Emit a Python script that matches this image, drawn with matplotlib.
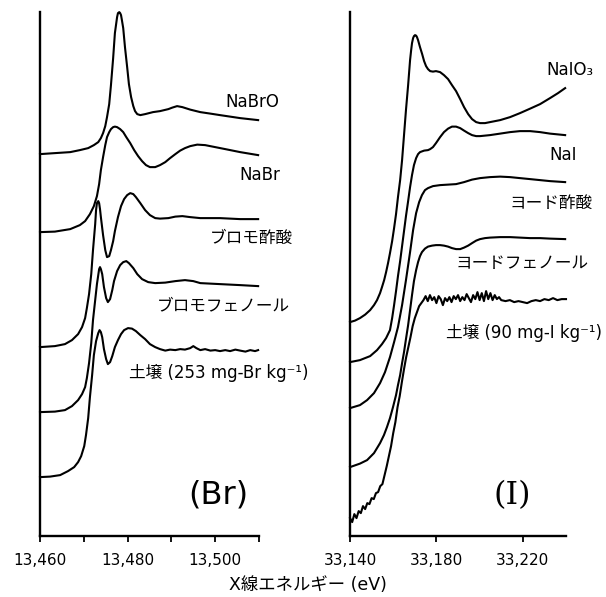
import matplotlib
matplotlib.use("Agg")
import matplotlib.pyplot as plt

plt.rcParams['font.family'] = ['DejaVu Sans', 'Noto Sans CJK JP']

# Br K-edge XANES (energy in eV, stacked normalized absorbance)
br_names = ["NaBrO", "NaBr", "ブロモ酢酸", "ブロモフェノール", "土壌 (253 mg-Br kg⁻¹)"]

nabro_e = [13460.0, 13463.4, 13466.9, 13469.1, 13471.0, 13472.3, 13473.3, 13473.9, 13474.4, 13474.9,
           13475.3, 13475.8, 13476.2, 13476.7, 13477.1, 13477.6, 13477.8, 13478.1, 13478.3, 13478.5,
           13478.7, 13479.0, 13479.4, 13479.9, 13480.3, 13480.8, 13481.3, 13481.7, 13482.2, 13482.9,
           13484.0, 13485.8, 13487.4, 13489.3, 13490.2, 13491.3, 13492.5, 13494.3, 13496.6, 13498.9,
           13501.1, 13505.7, 13509.8]
nabro_y = [3.82, 3.83, 3.84, 3.86, 3.88, 3.91, 3.94, 3.98, 4.03, 4.10,
           4.19, 4.32, 4.51, 4.78, 5.03, 5.19, 5.23, 5.24, 5.23, 5.21,
           5.16, 5.08, 4.89, 4.69, 4.52, 4.39, 4.30, 4.25, 4.22, 4.21,
           4.22, 4.24, 4.25, 4.27, 4.285, 4.30, 4.29, 4.265, 4.24, 4.225,
           4.21, 4.18, 4.16]

nabr_e = [13460.0, 13463.4, 13466.9, 13469.1, 13470.3, 13471.4, 13472.3, 13473.0, 13473.5, 13473.9,
          13474.4, 13474.9, 13475.3, 13475.8, 13476.2, 13476.7, 13477.1, 13477.6, 13478.3, 13479.0,
          13479.7, 13480.6, 13481.5, 13482.4, 13483.3, 13484.2, 13485.1, 13486.3, 13487.4, 13488.6,
          13489.7, 13490.9, 13492.0, 13493.1, 13494.3, 13495.9, 13497.7, 13500.0, 13502.3, 13505.7,
          13509.8]
nabr_y = [3.04, 3.045, 3.07, 3.11, 3.15, 3.22, 3.30, 3.40, 3.52, 3.66,
          3.79, 3.91, 3.99, 4.04, 4.07, 4.09, 4.095, 4.09, 4.07, 4.04,
          3.99, 3.93, 3.86, 3.80, 3.75, 3.71, 3.69, 3.69, 3.71, 3.74,
          3.78, 3.82, 3.855, 3.88, 3.90, 3.915, 3.91, 3.89, 3.87, 3.84,
          3.81]

brac_e = [13460.0, 13463.4, 13465.7, 13467.3, 13468.7, 13469.6, 13470.3, 13470.7, 13471.2, 13471.7,
          13472.1, 13472.6, 13472.8, 13473.0, 13473.3, 13473.5, 13473.7, 13473.9, 13474.4, 13474.9,
          13475.3, 13475.8, 13476.2, 13476.7, 13477.1, 13477.8, 13478.5, 13479.2, 13479.9, 13480.6,
          13481.3, 13481.9, 13482.9, 13484.0, 13485.1, 13486.3, 13487.4, 13489.3, 13490.9, 13492.5,
          13494.3, 13496.6, 13501.1, 13505.7, 13509.8]
brac_y = [1.89, 1.90, 1.92, 1.96, 2.02, 2.09, 2.18, 2.28, 2.42, 2.62,
          2.86, 3.12, 3.26, 3.33, 3.35, 3.33, 3.27, 3.19, 3.01, 2.86,
          2.79, 2.80, 2.86, 2.95, 3.05, 3.19, 3.30, 3.37, 3.41, 3.43,
          3.42, 3.39, 3.33, 3.26, 3.21, 3.18, 3.175, 3.18, 3.195, 3.20,
          3.19, 3.18, 3.18, 3.17, 3.17]

brph_e = [13460.0, 13463.4, 13465.7, 13467.3, 13468.7, 13469.6, 13470.3, 13470.7, 13471.2, 13471.7,
          13472.1, 13472.6, 13473.0, 13473.3, 13473.5, 13473.7, 13473.9, 13474.2, 13474.6, 13475.1,
          13475.5, 13476.0, 13476.5, 13476.9, 13477.6, 13478.3, 13479.0, 13479.7, 13480.3, 13481.3,
          13482.2, 13483.3, 13484.7, 13486.3, 13488.6, 13490.9, 13493.1, 13495.0, 13496.6, 13501.1,
          13505.7, 13509.8]
brph_y = [1.24, 1.245, 1.26, 1.30, 1.36, 1.42, 1.49, 1.58, 1.73, 1.93,
          2.16, 2.36, 2.52, 2.61, 2.67, 2.69, 2.67, 2.62, 2.49, 2.38,
          2.34, 2.37, 2.46, 2.55, 2.65, 2.71, 2.74, 2.75, 2.73, 2.68,
          2.62, 2.57, 2.54, 2.53, 2.535, 2.55, 2.56, 2.55, 2.53, 2.52,
          2.51, 2.50]

brsoil_e = [13460.0, 13462.3, 13464.6, 13466.4, 13467.8, 13468.7, 13469.4, 13470.1, 13470.5, 13471.0,
            13471.4, 13471.9, 13472.3, 13472.8, 13473.3, 13473.6, 13473.9, 13474.2, 13474.6, 13475.1,
            13475.5, 13476.0, 13476.5, 13477.1, 13477.8, 13478.5, 13479.2, 13480.1, 13481.0, 13481.9,
            13482.9, 13484.0, 13485.1, 13486.3, 13487.4, 13488.6, 13489.7, 13490.9, 13492.0, 13493.1,
            13494.3, 13495.0, 13495.7, 13496.6, 13497.7, 13498.9, 13500.0, 13501.1, 13502.3, 13503.4,
            13504.6, 13505.7, 13506.9, 13508.0, 13509.1, 13509.8]
brsoil_y = [0.59, 0.595, 0.61, 0.65, 0.69, 0.74, 0.80, 0.90, 1.01, 1.18,
            1.39, 1.61, 1.81, 1.95, 2.03, 2.06, 2.04, 1.99, 1.87, 1.77,
            1.72, 1.74, 1.80, 1.89, 1.96, 2.02, 2.06, 2.08, 2.075, 2.05,
            2.01, 1.97, 1.92, 1.89, 1.87, 1.855, 1.865, 1.86, 1.87, 1.865,
            1.88, 1.90, 1.88, 1.86, 1.87, 1.855, 1.86, 1.85, 1.86, 1.85,
            1.865, 1.855, 1.845, 1.86, 1.85, 1.86]

# I K-edge XANES
i_names = ["NaIO₃", "NaI", "ヨード酢酸", "ヨードフェノール", "土壌 (90 mg-I kg⁻¹)"]

naio3_e = [33140.0, 33142.3, 33144.6, 33147.0, 33149.3, 33151.1, 33152.5, 33153.9, 33154.8, 33155.8,
           33156.7, 33157.6, 33158.5, 33159.5, 33160.4, 33161.3, 33162.2, 33163.2, 33164.1, 33165.0,
           33165.9, 33166.9, 33167.8, 33168.3, 33168.7, 33169.2, 33169.6, 33170.1, 33170.6, 33171.0,
           33171.5, 33172.4, 33173.4, 33174.3, 33175.2, 33176.1, 33177.1, 33178.4, 33179.8, 33181.7,
           33183.5, 33185.4, 33187.2, 33189.1, 33191.0, 33192.8, 33194.7, 33196.5, 33198.4, 33200.2,
           33202.5, 33204.8, 33209.5, 33214.1, 33218.7, 33223.4, 33228.0, 33232.6, 33236.3, 33239.6]
naio3_y = [2.14, 2.155, 2.18, 2.215, 2.26, 2.31, 2.36, 2.43, 2.49, 2.56,
           2.64, 2.73, 2.83, 2.95, 3.08, 3.22, 3.39, 3.56, 3.76, 4.01,
           4.26, 4.51, 4.76, 4.86, 4.93, 4.98, 5.00, 5.01, 5.005, 4.99,
           4.96, 4.89, 4.82, 4.75, 4.70, 4.67, 4.65, 4.645, 4.65, 4.64,
           4.61, 4.57, 4.51, 4.45, 4.37, 4.29, 4.22, 4.17, 4.14, 4.13,
           4.13, 4.14, 4.16, 4.19, 4.23, 4.275, 4.32, 4.38, 4.43, 4.48]

nai_e = [33140.0, 33144.6, 33149.3, 33152.5, 33154.8, 33156.7, 33157.6, 33158.5, 33159.5, 33160.4,
         33161.3, 33162.2, 33163.2, 33164.1, 33165.0, 33165.9, 33166.9, 33167.8, 33168.7, 33169.6,
         33170.6, 33171.5, 33172.4, 33174.3, 33176.1, 33177.1, 33178.4, 33179.8, 33181.7, 33183.5,
         33185.4, 33187.2, 33189.1, 33191.0, 33192.8, 33194.7, 33196.5, 33198.4, 33200.2, 33204.8,
         33209.5, 33214.1, 33218.7, 33223.4, 33228.0, 33232.6, 33239.6]
nai_y = [1.74, 1.76, 1.80, 1.86, 1.92, 1.98, 2.02, 2.06, 2.18, 2.31,
         2.45, 2.60, 2.75, 2.90, 3.05, 3.20, 3.35, 3.49, 3.61, 3.71,
         3.78, 3.82, 3.84, 3.855, 3.86, 3.87, 3.89, 3.93, 3.99, 4.04,
         4.075, 4.095, 4.095, 4.08, 4.055, 4.03, 4.01, 4.00, 4.00, 4.01,
         4.025, 4.04, 4.05, 4.05, 4.04, 4.025, 4.01]

iac_e = [33140.0, 33144.6, 33147.9, 33151.1, 33153.9, 33156.2, 33158.5, 33160.4, 33162.2, 33164.1,
         33165.9, 33167.8, 33169.2, 33170.6, 33172.0, 33173.3, 33174.7, 33176.1, 33178.4, 33181.7,
         33185.4, 33189.1, 33192.8, 33196.5, 33200.2, 33204.8, 33209.5, 33214.1, 33218.7, 33223.4,
         33228.0, 33232.6, 33239.6]
iac_y = [1.28, 1.31, 1.36, 1.43, 1.53, 1.64, 1.79, 1.94, 2.09, 2.31,
         2.56, 2.84, 3.06, 3.23, 3.34, 3.41, 3.46, 3.48, 3.50, 3.51,
         3.515, 3.52, 3.54, 3.565, 3.58, 3.59, 3.595, 3.59, 3.58, 3.57,
         3.56, 3.55, 3.54]

iph_e = [33140.0, 33144.6, 33147.9, 33151.1, 33153.9, 33155.7, 33157.1, 33158.5, 33159.9, 33161.3,
         33162.2, 33163.2, 33164.1, 33165.0, 33165.9, 33166.9, 33167.8, 33168.7, 33169.6, 33170.6,
         33171.5, 33172.4, 33173.3, 33174.7, 33176.1, 33178.0, 33179.8, 33181.7, 33183.5, 33185.4,
         33187.2, 33189.1, 33191.0, 33192.8, 33194.7, 33196.5, 33198.4, 33200.2, 33202.5, 33204.8,
         33209.5, 33214.1, 33218.7, 33223.4, 33228.0, 33232.6, 33239.6]
iph_y = [0.69, 0.725, 0.76, 0.83, 0.93, 1.01, 1.09, 1.18, 1.29, 1.41,
         1.51, 1.61, 1.73, 1.84, 1.97, 2.11, 2.26, 2.41, 2.55, 2.66,
         2.74, 2.80, 2.84, 2.875, 2.895, 2.905, 2.91, 2.91, 2.905, 2.895,
         2.88, 2.87, 2.87, 2.885, 2.905, 2.93, 2.955, 2.97, 2.98, 2.985,
         2.99, 2.99, 2.985, 2.98, 2.98, 2.975, 2.97]

isoil_e = [33140, 33141, 33142, 33143, 33144, 33145, 33146, 33147, 33148, 33149,
           33150, 33151, 33152, 33153, 33154, 33155, 33156, 33157, 33158, 33159,
           33160, 33161, 33162, 33163, 33164, 33165, 33166, 33167, 33168, 33169,
           33170, 33171, 33172, 33173, 33174, 33175, 33176, 33177, 33178, 33179,
           33180, 33181, 33182, 33183, 33184, 33185, 33186, 33187, 33188, 33189,
           33190, 33191, 33192, 33193, 33194, 33195, 33196, 33197, 33198, 33199,
           33200, 33201, 33202, 33203, 33204, 33205, 33206, 33207, 33208, 33209,
           33210, 33212, 33214, 33216, 33218, 33220, 33222, 33224, 33226, 33228,
           33230, 33232, 33234, 33236, 33238, 33240]
isoil_y = [0.18, 0.14, 0.22, 0.18, 0.25, 0.23, 0.30, 0.27, 0.33, 0.32,
           0.38, 0.37, 0.43, 0.44, 0.50, 0.52, 0.61, 0.70, 0.80, 0.90,
           1.03, 1.14, 1.29, 1.40, 1.54, 1.67, 1.79, 1.89, 1.99, 2.10,
           2.18, 2.24, 2.30, 2.33, 2.36, 2.40, 2.35, 2.41, 2.36, 2.39,
           2.33, 2.40, 2.37, 2.31, 2.38, 2.35, 2.39, 2.34, 2.40, 2.37,
           2.41, 2.35, 2.39, 2.36, 2.42, 2.38, 2.34, 2.41, 2.37, 2.44,
           2.36, 2.43, 2.35, 2.45, 2.37, 2.43, 2.36, 2.41, 2.37, 2.39,
           2.36, 2.35, 2.36, 2.34, 2.35, 2.34, 2.33, 2.35, 2.36, 2.35,
           2.37, 2.36, 2.38, 2.36, 2.37, 2.37]

br_ticks = [13460, 13470, 13480, 13490, 13500, 13510]
br_ticklabels = ["13,460", "", "13,480", "", "13,500", ""]
i_ticks = [33140, 33180, 33220]
i_ticklabels = ["33,140", "33,180", "33,220"]

# label anchor positions (right edge, centre) in data coords
br_label_pos = [(13514.6, 4.34), (13514.9, 3.61), (13517.8, 2.98), (13517.1, 2.31), (13521.3, 1.63)]
i_label_pos = [(33252.6, 4.66), (33245.1, 3.81), (33252.1, 3.33), (33250.2, 2.73), (33256.7, 2.03)]

fig = plt.figure(figsize=(6.06, 5.97), dpi=100)
ax1 = fig.add_axes([0.066, 0.102, 0.3614, 0.8777])
ax2 = fig.add_axes([0.5776, 0.102, 0.3564, 0.8777])

br_series = [(nabro_e, nabro_y), (nabr_e, nabr_y), (brac_e, brac_y), (brph_e, brph_y), (brsoil_e, brsoil_y)]
i_series = [(naio3_e, naio3_y), (nai_e, nai_y), (iac_e, iac_y), (iph_e, iph_y), (isoil_e, isoil_y)]

for e, y in br_series:
    ax1.plot(e, y, color='black', lw=1.5, clip_on=False, solid_joinstyle='round')
for e, y in i_series:
    ax2.plot(e, y, color='black', lw=1.5, clip_on=False, solid_joinstyle='round')

for name, (x, y) in zip(br_names, br_label_pos):
    ax1.text(x, y, name, ha='right', va='center', fontsize=12)
for name, (x, y) in zip(i_names, i_label_pos):
    ax2.text(x, y, name, ha='right', va='center', fontsize=12)

ax1.text(13500.7, 0.41, "(Br)", ha='center', va='center', fontsize=23)
ax2.text(33215.0, 0.41, "(I)", ha='center', va='center', fontsize=23, family='DejaVu Serif')

for ax in (ax1, ax2):
    ax.set_ylim(0, 5.24)
    ax.spines['top'].set_visible(False)
    ax.spines['right'].set_visible(False)
    ax.spines['left'].set_linewidth(1.7)
    ax.spines['bottom'].set_linewidth(1.7)
    ax.set_yticks([])
    ax.tick_params(axis='x', direction='out', length=4, width=1.3, labelsize=11, pad=8)

ax1.set_xlim(13460, 13510)
ax1.set_xticks(br_ticks)
ax1.set_xticklabels(br_ticklabels)
ax2.set_xlim(33140, 33240)
ax2.set_xticks(i_ticks)
ax2.set_xticklabels(i_ticklabels)

fig.text(0.508, 0.02, "X線エネルギー (eV)", ha='center', va='center', fontsize=12.5)

fig.savefig("out.png", dpi=100)
